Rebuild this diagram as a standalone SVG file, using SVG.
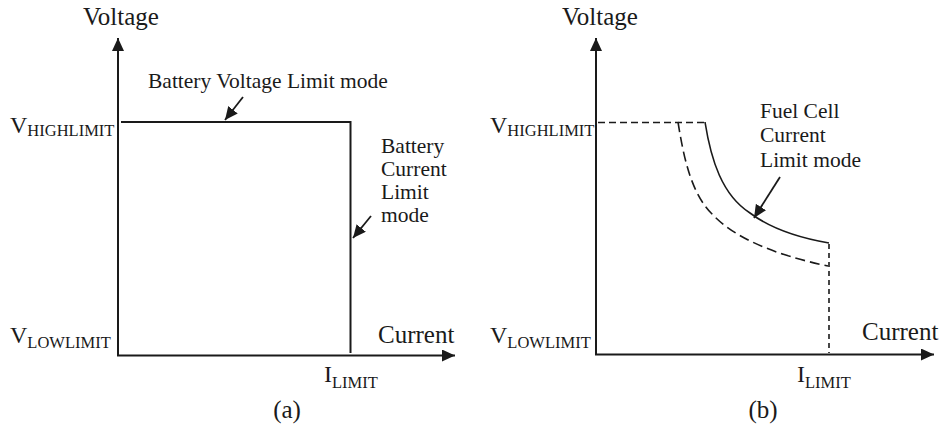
<svg xmlns="http://www.w3.org/2000/svg" width="942" height="431" viewBox="0 0 942 431">
<style>
text{font-family:"Liberation Serif","Times New Roman",serif;fill:#1a1a1a}
.ax{font-size:25px}
.lb{font-size:21.5px}
.mv{font-size:24px}
.sb{font-size:16.5px}
.axis{stroke:#1a1a1a;stroke-width:2;fill:none}
.ln{stroke:#1a1a1a;stroke-width:2;fill:none}
.cv{stroke:#1a1a1a;stroke-width:1.6;fill:none}
.dh{stroke:#1a1a1a;stroke-width:1.6;fill:none;stroke-dasharray:7 4}
.dc{stroke:#1a1a1a;stroke-width:1.6;fill:none;stroke-dasharray:10 5}
.dv{stroke:#1a1a1a;stroke-width:1.6;fill:none;stroke-dasharray:5 4}
.pt{stroke:#1a1a1a;stroke-width:1.8;fill:none}
</style>
<defs>
<marker id="ah" markerUnits="userSpaceOnUse" markerWidth="14" markerHeight="12" refX="13" refY="6" orient="auto">
<path d="M0,0 L13,6 L0,12 Z" fill="#1a1a1a"/>
</marker>
<marker id="ps" markerUnits="userSpaceOnUse" markerWidth="14" markerHeight="12" refX="13" refY="6" orient="auto">
<path d="M0,0 L13,6 L0,12 Z" fill="#1a1a1a"/>
</marker>
</defs>

<g id="panel-a">
<g id="a-axes" class="connectors">
<path class="axis" d="M118,356 L118,38" marker-end="url(#ah)"/>
<path class="axis" d="M117,355.5 L455,355.5" marker-end="url(#ah)"/>
</g>
<g id="a-curve">
<path class="ln" d="M121,122 L350.5,122 L350.5,353"/>
</g>
<g id="a-pointers">
<path class="pt" d="M243,97 L225,120" marker-end="url(#ps)"/>
<path class="pt" d="M371,216 L353,238" marker-end="url(#ps)"/>
</g>
<g id="a-labels">
<text class="ax" x="83" y="25">Voltage</text>
<text class="ax" x="378" y="343">Current</text>
<text class="lb" x="148" y="88">Battery Voltage Limit mode</text>
<text class="lb" x="381" y="153">Battery</text>
<text class="lb" x="381" y="176">Current</text>
<text class="lb" x="381" y="199">Limit</text>
<text class="lb" x="381" y="222">mode</text>
<text x="10" y="133"><tspan class="mv">V</tspan><tspan class="sb" dy="3">HIGHLIMIT</tspan></text>
<text x="10" y="343"><tspan class="mv">V</tspan><tspan class="sb" dy="5">LOWLIMIT</tspan></text>
<text x="324" y="382"><tspan class="mv">I</tspan><tspan class="sb" dy="6">LIMIT</tspan></text>
<text class="ax" x="287" y="418" text-anchor="middle">(a)</text>
</g>
</g>

<g id="panel-b">
<g id="b-axes" class="connectors">
<path class="axis" d="M596,355 L596,38" marker-end="url(#ah)"/>
<path class="axis" d="M595,354.5 L934,354.5" marker-end="url(#ah)"/>
</g>
<g id="b-curves">
<path class="dh" d="M598,122.5 L705,122.5"/>
<path class="cv" d="M705,122 C711,160 722,195 750,213 C770,228 800,238 829,243"/>
<path class="dc" d="M678,122 C684,160 692,195 713,215 C735,238 775,255 828,266"/>
<path class="dv" d="M829,244 L829,353"/>
</g>
<g id="b-pointers">
<path class="pt" d="M780,177 L754,218" marker-end="url(#ps)"/>
</g>
<g id="b-labels">
<text class="ax" x="562" y="25">Voltage</text>
<text class="ax" x="862" y="340">Current</text>
<text class="lb" x="760" y="118">Fuel Cell</text>
<text class="lb" x="760" y="142">Current</text>
<text class="lb" x="760" y="167">Limit mode</text>
<text x="490" y="133"><tspan class="mv">V</tspan><tspan class="sb" dy="3">HIGHLIMIT</tspan></text>
<text x="490" y="343"><tspan class="mv">V</tspan><tspan class="sb" dy="5">LOWLIMIT</tspan></text>
<text x="797" y="382"><tspan class="mv">I</tspan><tspan class="sb" dy="6">LIMIT</tspan></text>
<text class="ax" x="763" y="418" text-anchor="middle">(b)</text>
</g>
</g>
</svg>
